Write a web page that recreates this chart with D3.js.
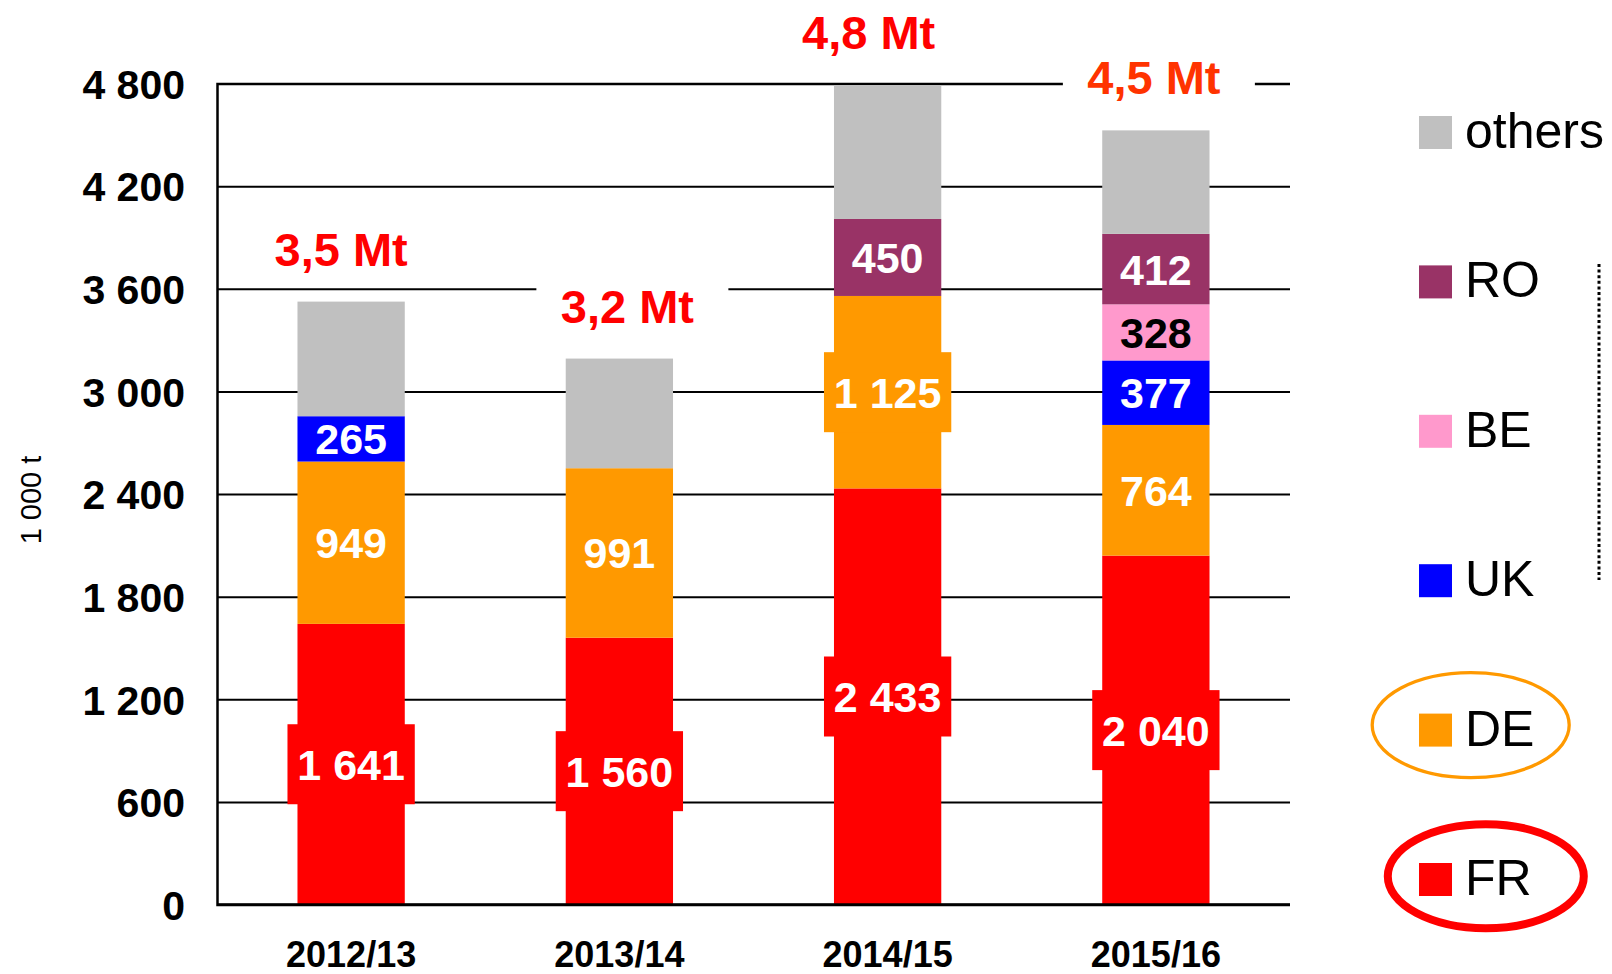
<!DOCTYPE html>
<html>
<head>
<meta charset="utf-8">
<script src="https://cdn.jsdelivr.net/npm/d3@7"></script>
<style>
  body { margin: 0; background: #fff; }
  text { font-family: "Liberation Sans", Arial, sans-serif; }
</style>
</head>
<body>
<div id="chart-area"></div>
<script>
// data (1 000 t)
var seasons = ['2012/13', '2013/14', '2014/15', '2015/16']
var fr = [1641, 1560, 2433, 2040]
var de = [949, 991, 1125, 764]
var uk = [265, 0, 0, 377]
var be = [0, 0, 0, 328]
var ro = [0, 0, 450, 412]
var others = [670, 641, 781, 605]
var totalLabels = ['3,5 Mt', '3,2 Mt', '4,8 Mt', '4,5 Mt']
var yTicks = [0, 600, 1200, 1800, 2400, 3000, 3600, 4200, 4800]
var legendOrder = ['others', 'RO', 'BE', 'UK', 'DE', 'FR']

var colors = { FR: '#FF0000', DE: '#FF9900', UK: '#0000FF', BE: '#FF99CC', RO: '#993366', others: '#C0C0C0' }
var labelColors = { FR: '#fff', DE: '#fff', UK: '#fff', BE: '#000', RO: '#fff', others: 'none' }

var margin = { left: 217, right: 322, top: 83.5, bottom: 69.4 }
var ab_width = 1612
var ab_height = 974
var width = ab_width - margin.left - margin.right,
    height = ab_height - margin.top - margin.bottom;

var svg = d3.select('#chart-area')
    .append('svg')
    .attr('width', ab_width)
    .attr('height', ab_height)

var g = svg.append('g')
    .attr('transform', 'translate(' + margin.left + ', ' + margin.top + ')');

var rows = seasons.map(function(s, i) {
  return { season: s, FR: fr[i], DE: de[i], UK: uk[i], BE: be[i], RO: ro[i], others: others[i] }
})
var keys = ['FR', 'DE', 'UK', 'BE', 'RO', 'others']
var series = d3.stack().keys(keys)(rows)

var x = d3.scaleBand()
    .domain(seasons)
    .range([0, width])
    .paddingInner(0.6)
    .paddingOuter(0.3)

var y = d3.scaleLinear()
    .domain([0, 4800])
    .range([height, 0])

var fmt = d3.formatLocale({ decimal: ',', thousands: ' ', grouping: [3], currency: ['', ''] }).format(',d')

// gridlines + tick labels
var yAxis = g.append('g')
    .call(d3.axisLeft(y).tickValues(yTicks).tickSize(-width).tickPadding(32).tickFormat(fmt))
yAxis.select('.domain').attr('stroke', '#000').attr('stroke-width', 2.5)
yAxis.selectAll('.tick line').attr('stroke', '#000').attr('stroke-width', 2)
yAxis.selectAll('.tick text')
    .attr('fill', '#000')
    .attr('font-size', 41)
    .attr('font-weight', 'bold')
    .attr('font-family', '"Liberation Sans", Arial, sans-serif')
    .attr('dy', '0.36em')

// total labels on white boxes that cut the gridlines
var totals = rows.map(function(d) {
  return d3.sum(keys, function(k) { return d[k] })
})
var totalDx = [-10, 8, -19, -2]
var totalColors = ['#FF0000', '#FF0000', '#FF0000', '#FF3300']
var tl = g.selectAll('.total').data(seasons).enter().append('g')
    .attr('class', 'total')
    .attr('transform', function(d, i) {
      return 'translate(' + (x(d) + x.bandwidth() / 2 + totalDx[i]) + ',' + (y(totals[i]) - 36) + ')'
    })
tl.append('rect')
    .attr('x', -91).attr('y', -46).attr('width', 192).attr('height', 60)
    .attr('fill', '#fff')
tl.append('text')
    .attr('text-anchor', 'middle')
    .attr('font-size', 47)
    .attr('font-weight', 'bold')
    .attr('fill', function(d, i) { return totalColors[i] })
    .text(function(d, i) { return totalLabels[i] })

// stacked bars
var layer = g.selectAll('.layer').data(series).enter().append('g')
    .attr('class', 'layer')
    .attr('fill', function(d) { return colors[d.key] })

layer.selectAll('rect').data(function(d) { return d }).enter()
    .append('rect')
    .attr('x', function(d) { return x(d.data.season) })
    .attr('y', function(d) { return y(d[1]) })
    .attr('height', function(d) { return y(d[0]) - y(d[1]) })
    .attr('width', x.bandwidth())

// value labels, the big ones get a wider box
series.forEach(function(s) {
  if (s.key === 'others') return
  s.forEach(function(d) {
    var v = d[1] - d[0]
    if (v <= 0) return
    var cx = x(d.data.season) + x.bandwidth() / 2
    var cy = (y(d[0]) + y(d[1])) / 2
    if (v >= 1000) {
      g.append('rect')
          .attr('x', cx - x.bandwidth() / 2 - 10)
          .attr('y', cy - 40)
          .attr('width', x.bandwidth() + 20)
          .attr('height', 80)
          .attr('fill', colors[s.key])
    }
    g.append('text')
        .attr('x', cx)
        .attr('y', cy)
        .attr('dy', '0.36em')
        .attr('text-anchor', 'middle')
        .attr('font-size', 43)
        .attr('font-weight', 'bold')
        .attr('fill', labelColors[s.key])
        .text(fmt(v))
  })
})

// baseline
g.append('line')
    .attr('x1', 0).attr('x2', width)
    .attr('y1', y(0)).attr('y2', y(0))
    .attr('stroke', '#000').attr('stroke-width', 2.5)

// x labels
g.selectAll('.xlab').data(seasons).enter().append('text')
    .attr('x', function(d) { return x(d) + x.bandwidth() / 2 })
    .attr('y', height + 62.5)
    .attr('text-anchor', 'middle')
    .attr('font-size', 36)
    .attr('font-weight', 'bold')
    .text(function(d) { return d })

// y title
svg.append('text')
    .attr('transform', 'translate(41, 500) rotate(-90)')
    .attr('text-anchor', 'middle')
    .attr('font-size', 29)
    .text('1 000 t')

// legend
var lg = svg.append('g').attr('transform', 'translate(1419, 116)')
var item = lg.selectAll('.item').data(legendOrder).enter().append('g')
    .attr('transform', function(d, i) { return 'translate(0,' + (i * 149.4) + ')' })
item.append('rect')
    .attr('width', 33).attr('height', 33)
    .attr('fill', function(d) { return colors[d] })
item.append('text')
    .attr('x', 46)
    .attr('y', 32)
    .attr('font-size', 50)
    .text(function(d) { return d })

// circled DE and FR
lg.append('ellipse')
    .attr('cx', 51.7).attr('cy', 4 * 149.4 + 11.5)
    .attr('rx', 98.5).attr('ry', 52.5)
    .attr('fill', 'none').attr('stroke', '#FF9900').attr('stroke-width', 3.3)
lg.append('ellipse')
    .attr('cx', 66.8).attr('cy', 5 * 149.4 + 13.3)
    .attr('rx', 98).attr('ry', 52)
    .attr('fill', 'none').attr('stroke', '#FF0000').attr('stroke-width', 8)

// dotted bracket on the right
svg.append('line')
    .attr('x1', 1599).attr('x2', 1599)
    .attr('y1', 264).attr('y2', 580)
    .attr('stroke', '#000').attr('stroke-width', 3)
    .attr('stroke-dasharray', '3,2.6')
</script>
</body>
</html>
